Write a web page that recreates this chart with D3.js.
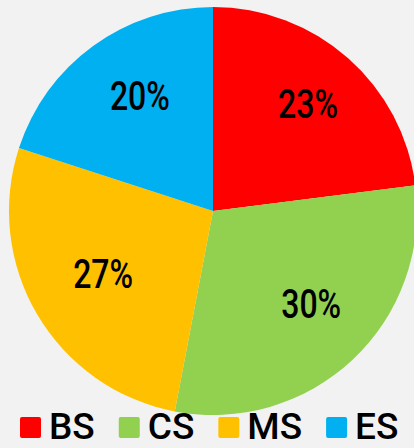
<!DOCTYPE html>
<html><head><meta charset="utf-8">
<script src="https://cdn.jsdelivr.net/npm/d3@7"></script>
<style>html,body{margin:0;padding:0;background:#f2f2f2;}svg{display:block;}</style>
</head><body>
<svg id="c" width="414" height="448"></svg>
<script>
const categories = ["BS", "CS", "MS", "ES"];
const values = [23, 30, 27, 20];
const labels = ["23%", "30%", "27%", "20%"];
const colors = ["#ff0000", "#92d050", "#ffc000", "#00b0f0"];

const svg = d3.select("#c");
const cx = 213, cy = 211, R = 204;

const pie = d3.pie().sort(null).value(d => d)(values);
const arc = d3.arc().innerRadius(0).outerRadius(R);
const labelArc = d3.arc().innerRadius(R * 0.66).outerRadius(R * 0.66);

const g = svg.append("g").attr("transform", `translate(${cx},${cy})`);
g.selectAll("path").data(pie).join("path")
  .attr("d", arc).attr("fill", (d, i) => colors[i]);

g.selectAll("text").data(pie).join("text")
  .attr("transform", d => { const c = labelArc.centroid(d); return `translate(${c[0] + 6},${c[1] - 6}) scale(0.8,1)`; })
  .attr("text-anchor", "middle").attr("dy", "0.36em")
  .style("font-family", "Roboto, sans-serif").style("font-size", "40px").style("font-weight", 500)
  .attr("fill", "#000")
  .text((d, i) => labels[i]);

// legend
const color = d3.scaleOrdinal().domain(categories).range(colors);
const leg = svg.append("g").attr("transform", "translate(0,426)");
const items = leg.selectAll("g").data(categories).join("g");
items.append("rect").attr("width", 21).attr("height", 21).attr("rx", 2).attr("y", -9)
  .attr("fill", d => color(d));
items.append("text").attr("x", 29).attr("y", 12.5)
  .style("font-family", "Roboto, sans-serif").style("font-size", "37px").style("font-weight", 500)
  .attr("fill", "#000").text(d => d);
let x = 20;
items.each(function() {
  const w = this.getBBox().width;
  d3.select(this).attr("transform", `translate(${x},0)`);
  x += w + 24;
});
</script>
</body></html>
